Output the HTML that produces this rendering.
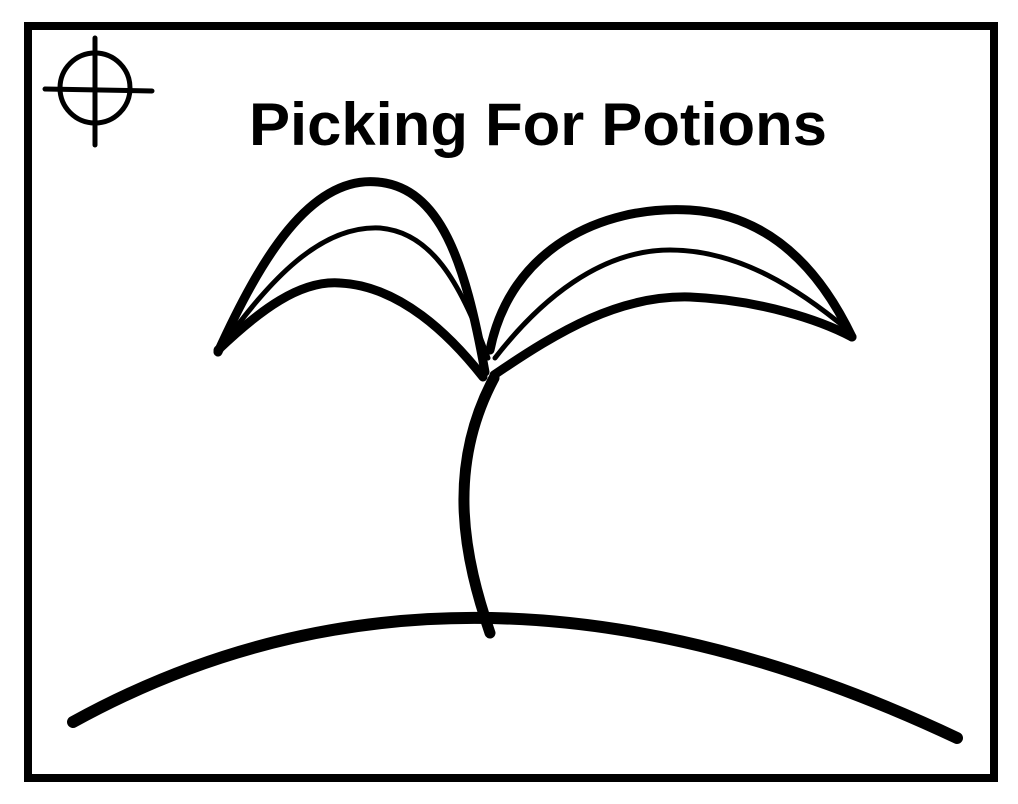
<!DOCTYPE html>
<html><head><meta charset="utf-8"><style>
html,body{margin:0;padding:0;background:#fff;width:1018px;height:804px;overflow:hidden}
svg{display:block}
</style></head><body>
<svg width="1018" height="804" viewBox="0 0 1018 804">
<rect x="28" y="26" width="966" height="752" fill="#fff" stroke="#000" stroke-width="8"/>
<g stroke="#000" stroke-width="5" fill="none" stroke-linecap="round">
<circle cx="95" cy="88" r="35"/>
<line x1="95" y1="38" x2="95" y2="145"/>
<line x1="45" y1="89" x2="152" y2="91"/>
</g>
<text x="538" y="145" text-anchor="middle" font-family="'Liberation Sans',sans-serif" font-weight="bold" font-size="60" textLength="578" lengthAdjust="spacingAndGlyphs">Picking For Potions</text>
<g fill="none" stroke="#000" stroke-linecap="round" stroke-linejoin="round">
<path d="M73,722 Q465,506 957,738" stroke-width="12"/>
<path d="M490,633 C465,560 445,470 494,378" stroke-width="11"/>
<path d="M218,352 C260,260 310,175 378,182 C440,188 465,260 485,372" stroke-width="9"/>
<path d="M222,346 C270,280 320,225 380,228 C430,232 460,280 488,358" stroke-width="5"/>
<path d="M218,350 C260,310 300,280 340,283 C400,286 450,335 483,377" stroke-width="9"/>
<path d="M490,350 C510,250 600,205 690,210 C770,215 820,270 852,337" stroke-width="9"/>
<path d="M495,358 C540,300 600,250 670,250 C740,250 800,290 848,330" stroke-width="5"/>
<path d="M494,375 C560,330 620,295 690,297 C760,300 820,320 852,337" stroke-width="9"/>
</g>
</svg>
</body></html>
